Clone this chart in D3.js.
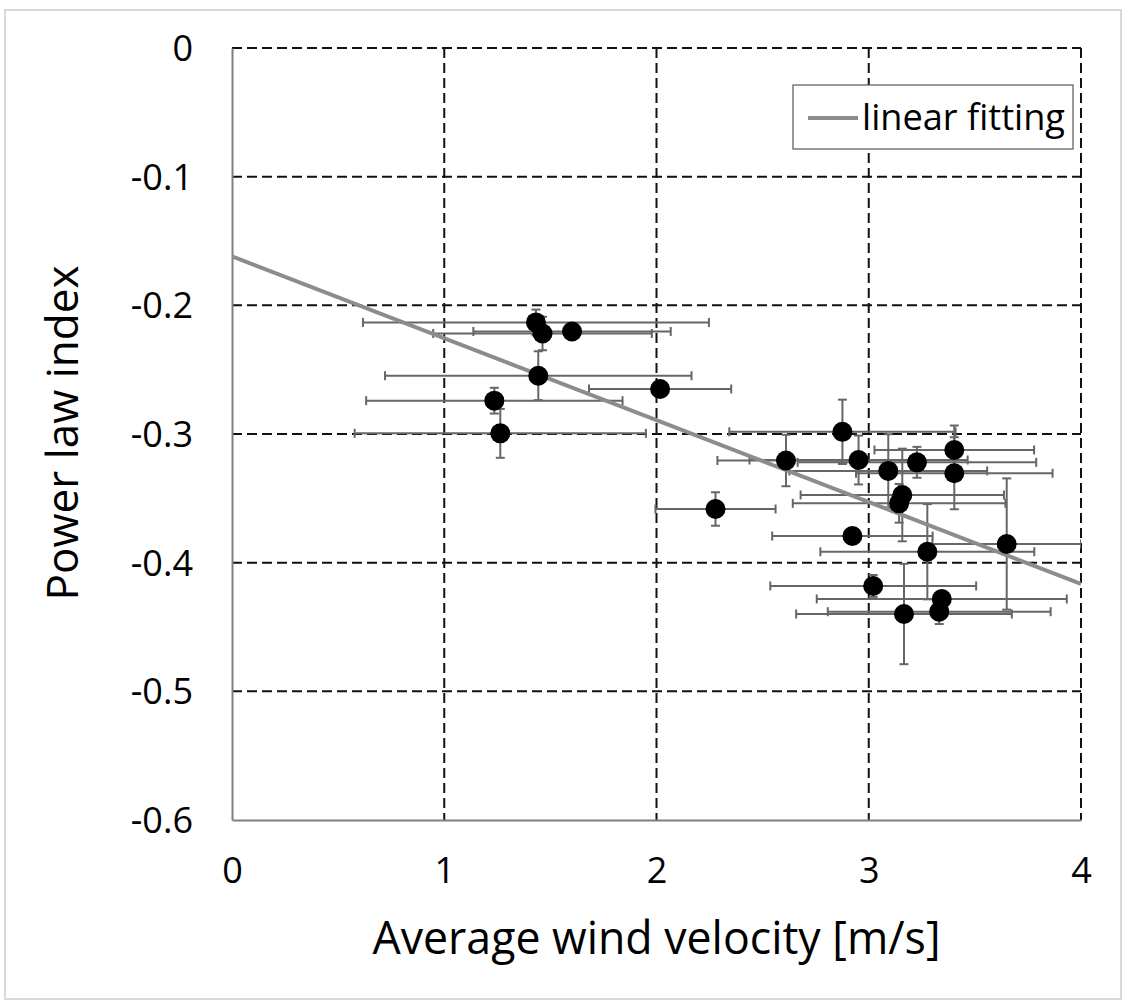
<!DOCTYPE html>
<html>
<head>
<meta charset="utf-8">
<script src="https://cdn.jsdelivr.net/npm/d3@7"></script>
<style>
  html, body { margin: 0; padding: 0; background: #fff; }
  svg { display: block; }
  text { font-family: "Open Sans", "Noto Sans", sans-serif; fill: #000; }
</style>
</head>
<body>
<svg id="chart" width="1126" height="1002"></svg>
<script>
// Mean wind velocity per measurement run [m/s]
const velocity = [1.432, 1.463, 1.602, 1.443, 2.017, 1.236, 1.264,
  2.876, 2.610, 2.952, 3.227, 3.403, 3.403, 3.092, 3.158, 3.143,
  2.923, 3.276, 3.650, 2.278, 3.021, 3.344, 3.332, 3.166];
// Fitted power law index for each run
const powerIndex = [-0.2133, -0.2219, -0.2203, -0.2547, -0.2650, -0.2741, -0.2995,
  -0.2983, -0.3206, -0.3202, -0.3220, -0.3124, -0.3305, -0.3287, -0.3474, -0.3539,
  -0.3793, -0.3915, -0.3855, -0.3583, -0.4181, -0.4282, -0.4381, -0.4399];
// Standard deviation of the wind velocity (horizontal error bars)
const velocityErr = [0.815, 0.515, 0.465, 0.722, 0.335, 0.604, 0.686,
  0.533, 0.323, 0.514, 0.562, 0.376, 0.463, 0.466, 0.479, 0.501,
  0.378, 0.504, 0.350, 0.283, 0.485, 0.589, 0.525, 0.508];
// Standard deviation of the power law index (vertical error bars)
const indexErr = [0.010, 0.013, 0.004, 0.019, 0.004, 0.010, 0.019,
  0.025, 0.020, 0.019, 0.012, 0.019, 0.028, 0.0285, 0.036, 0.015,
  0.004, 0.037, 0.051, 0.013, 0.0085, 0.004, 0.0096, 0.039];

// Linear fitting line end points
const fitX = [0, 4];
const fitY = [-0.162, -0.4165];

// Axis ticks
const xTicks = [0, 1, 2, 3, 4];
const yTicks = [0, -0.1, -0.2, -0.3, -0.4, -0.5, -0.6];

const points = velocity.map((v, i) => ({
  x: v, y: powerIndex[i], ex: velocityErr[i], ey: indexErr[i]
}));

const svg = d3.select("#chart");
const W = 1126, H = 1002;
const plot = { left: 232, right: 1081, top: 48, bottom: 820 };

// Outer chart frame
svg.append("rect")
  .attr("x", 5).attr("y", 10)
  .attr("width", W - 10).attr("height", H - 13)
  .attr("fill", "#fff")
  .attr("stroke", "#d9d9d9").attr("stroke-width", 2);

const x = d3.scaleLinear().domain([0, 4]).range([plot.left, plot.right]);
const y = d3.scaleLinear().domain([-0.6, 0]).range([plot.bottom, plot.top]);

svg.append("defs").append("clipPath").attr("id", "plotClip")
  .append("rect")
  .attr("x", plot.left).attr("y", plot.top)
  .attr("width", plot.right - plot.left)
  .attr("height", plot.bottom - plot.top);

// Dashed grid lines
const grid = svg.append("g");
grid.selectAll("line.vg").data(xTicks.filter(t => t > 0)).join("line")
  .attr("x1", d => x(d)).attr("x2", d => x(d))
  .attr("y1", plot.top).attr("y2", plot.bottom)
  .attr("stroke", "#111").attr("stroke-width", 2)
  .attr("stroke-dasharray", "10 5");
grid.selectAll("line.hg").data(yTicks.filter(t => t > -0.6)).join("line")
  .attr("x1", plot.left).attr("x2", plot.right)
  .attr("y1", d => y(d)).attr("y2", d => y(d))
  .attr("stroke", "#111").attr("stroke-width", 2)
  .attr("stroke-dasharray", "10 5");

// Axes (solid left and bottom lines, labels only)
const yAxis = svg.append("g")
  .attr("transform", `translate(${plot.left},0)`)
  .call(d3.axisLeft(y).tickValues(yTicks).tickSize(0).tickPadding(39)
    .tickFormat(d => d === 0 ? "0" : d3.format(".1f")(d).replace("−", "-")));
yAxis.select(".domain").attr("stroke", "#7f7f7f").attr("stroke-width", 2);
yAxis.selectAll("text")
  .attr("font-size", 36).attr("font-family", "Open Sans, sans-serif")
  .attr("fill", "#000").attr("dy", "0.35em");

const xAxis = svg.append("g")
  .attr("transform", `translate(0,${plot.bottom})`)
  .call(d3.axisBottom(x).tickValues(xTicks).tickSize(0).tickPadding(37)
    .tickFormat(d3.format("d")));
xAxis.select(".domain").attr("stroke", "#7f7f7f").attr("stroke-width", 2);
xAxis.selectAll("text")
  .attr("font-size", 36).attr("font-family", "Open Sans, sans-serif")
  .attr("fill", "#000").attr("dy", "0.71em");

// Error bars
const bars = svg.append("g").attr("clip-path", "url(#plotClip)")
  .attr("stroke", "#666").attr("stroke-width", 2).attr("fill", "none");
const cap = 4.5;
points.forEach(p => {
  const g = bars.append("g");
  const cx = x(p.x), cy = y(p.y);
  const x0 = x(p.x - p.ex), x1 = x(p.x + p.ex);
  const y0 = y(p.y + p.ey), y1 = y(p.y - p.ey);
  g.append("line").attr("x1", x0).attr("x2", x1).attr("y1", cy).attr("y2", cy);
  g.append("line").attr("x1", x0).attr("x2", x0).attr("y1", cy - cap).attr("y2", cy + cap);
  g.append("line").attr("x1", x1).attr("x2", x1).attr("y1", cy - cap).attr("y2", cy + cap);
  g.append("line").attr("x1", cx).attr("x2", cx).attr("y1", y0).attr("y2", y1);
  g.append("line").attr("x1", cx - cap).attr("x2", cx + cap).attr("y1", y0).attr("y2", y0);
  g.append("line").attr("x1", cx - cap).attr("x2", cx + cap).attr("y1", y1).attr("y2", y1);
});

// Linear fitting line
svg.append("path")
  .attr("clip-path", "url(#plotClip)")
  .datum(fitX.map((v, i) => [v, fitY[i]]))
  .attr("d", d3.line().x(d => x(d[0])).y(d => y(d[1])))
  .attr("stroke", "#8c8c8c").attr("stroke-width", 4).attr("fill", "none");

// Data points
svg.append("g").selectAll("circle").data(points).join("circle")
  .attr("cx", d => x(d.x)).attr("cy", d => y(d.y))
  .attr("r", 10).attr("fill", "#000");

// Legend
const lg = svg.append("g").attr("transform", "translate(793,85)");
lg.append("rect").attr("width", 280).attr("height", 64)
  .attr("fill", "#fff").attr("stroke", "#595959").attr("stroke-width", 1.2);
lg.append("line").attr("x1", 15).attr("x2", 65).attr("y1", 33).attr("y2", 33)
  .attr("stroke", "#8c8c8c").attr("stroke-width", 4);
lg.append("text").attr("x", 69).attr("y", 45)
  .attr("font-size", 37).attr("textLength", 203).attr("lengthAdjust", "spacingAndGlyphs")
  .text("linear fitting");

// Axis titles
svg.append("text")
  .attr("x", (plot.left + plot.right) / 2).attr("y", 954)
  .attr("text-anchor", "middle").attr("font-size", 45)
  .attr("textLength", 568).attr("lengthAdjust", "spacingAndGlyphs")
  .text("Average wind velocity [m/s]");

svg.append("text")
  .attr("transform", `translate(78,${(plot.top + plot.bottom) / 2 - 1}) rotate(-90)`)
  .attr("text-anchor", "middle").attr("font-size", 44)
  .attr("textLength", 335).attr("lengthAdjust", "spacingAndGlyphs")
  .text("Power law index");
</script>
</body>
</html>
